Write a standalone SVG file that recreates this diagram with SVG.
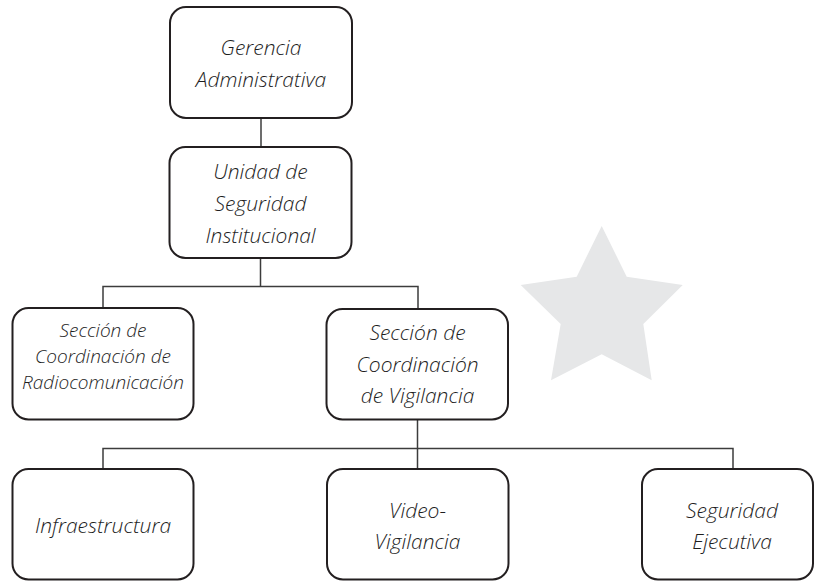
<svg xmlns="http://www.w3.org/2000/svg" width="814" height="581" viewBox="0 0 814 581">
<style>
.box{fill:#ffffff;stroke:#231f20;stroke-width:2}
.con{fill:none;stroke:#3c3c3c;stroke-width:1.5}
.t{font-family:"Open Sans","Noto Sans","DejaVu Sans",sans-serif;font-style:italic;font-weight:300;font-size:21px;fill:#1e1e1e;text-anchor:middle}
.s{font-size:19px}
</style>
<rect width="814" height="581" fill="#ffffff"/>
<polygon fill="#e6e7e8" points="601.7,226 626.7,276.7 682.7,285 643.3,324 651.7,380.3 601.7,354.3 551,380.3 560.7,324 520.7,285 576.7,276.7"/>
<g id="connectors">
<path class="con" d="M261,118 V147"/>
<path class="con" d="M260.5,258 V286.5 M103,307 V286.5 H418 V309"/>
<path class="con" d="M417.5,420 V469 M103,469 V448.5 H733 V469"/>
</g>
<g id="gerencia">
<rect class="box" x="170" y="7" width="182" height="111" rx="16"/>
<text class="t" x="261" y="55">Gerencia</text>
<text class="t" x="261" y="87">Administrativa</text>
</g>
<g id="unidad">
<rect class="box" x="169.5" y="147" width="182" height="111" rx="16"/>
<text class="t" x="260.5" y="179">Unidad de</text>
<text class="t" x="260.5" y="211">Seguridad</text>
<text class="t" x="260.5" y="243">Institucional</text>
</g>
<g id="radiocomunicacion">
<rect class="box" x="12.5" y="308" width="181" height="111.5" rx="16"/>
<text class="t s" x="103" y="337">Sección de</text>
<text class="t s" x="103" y="363">Coordinación de</text>
<text class="t s" x="103" y="389">Radiocomunicación</text>
</g>
<g id="vigilancia">
<rect class="box" x="326.5" y="309" width="181.5" height="110.5" rx="16"/>
<text class="t" x="417.5" y="340">Sección de</text>
<text class="t" x="417.5" y="372">Coordinación</text>
<text class="t" x="417.5" y="403">de Vigilancia</text>
</g>
<g id="infraestructura">
<rect class="box" x="12.5" y="469" width="181" height="110.5" rx="16"/>
<text class="t" x="103" y="533">Infraestructura</text>
</g>
<g id="videovigilancia">
<rect class="box" x="327" y="469" width="181.5" height="110.5" rx="16"/>
<text class="t" x="417.5" y="518">Video-</text>
<text class="t" x="417.5" y="549">Vigilancia</text>
</g>
<g id="seguridadejecutiva">
<rect class="box" x="642" y="469" width="171" height="110.5" rx="16"/>
<text class="t" x="732" y="518">Seguridad</text>
<text class="t" x="732" y="549">Ejecutiva</text>
</g>
</svg>
